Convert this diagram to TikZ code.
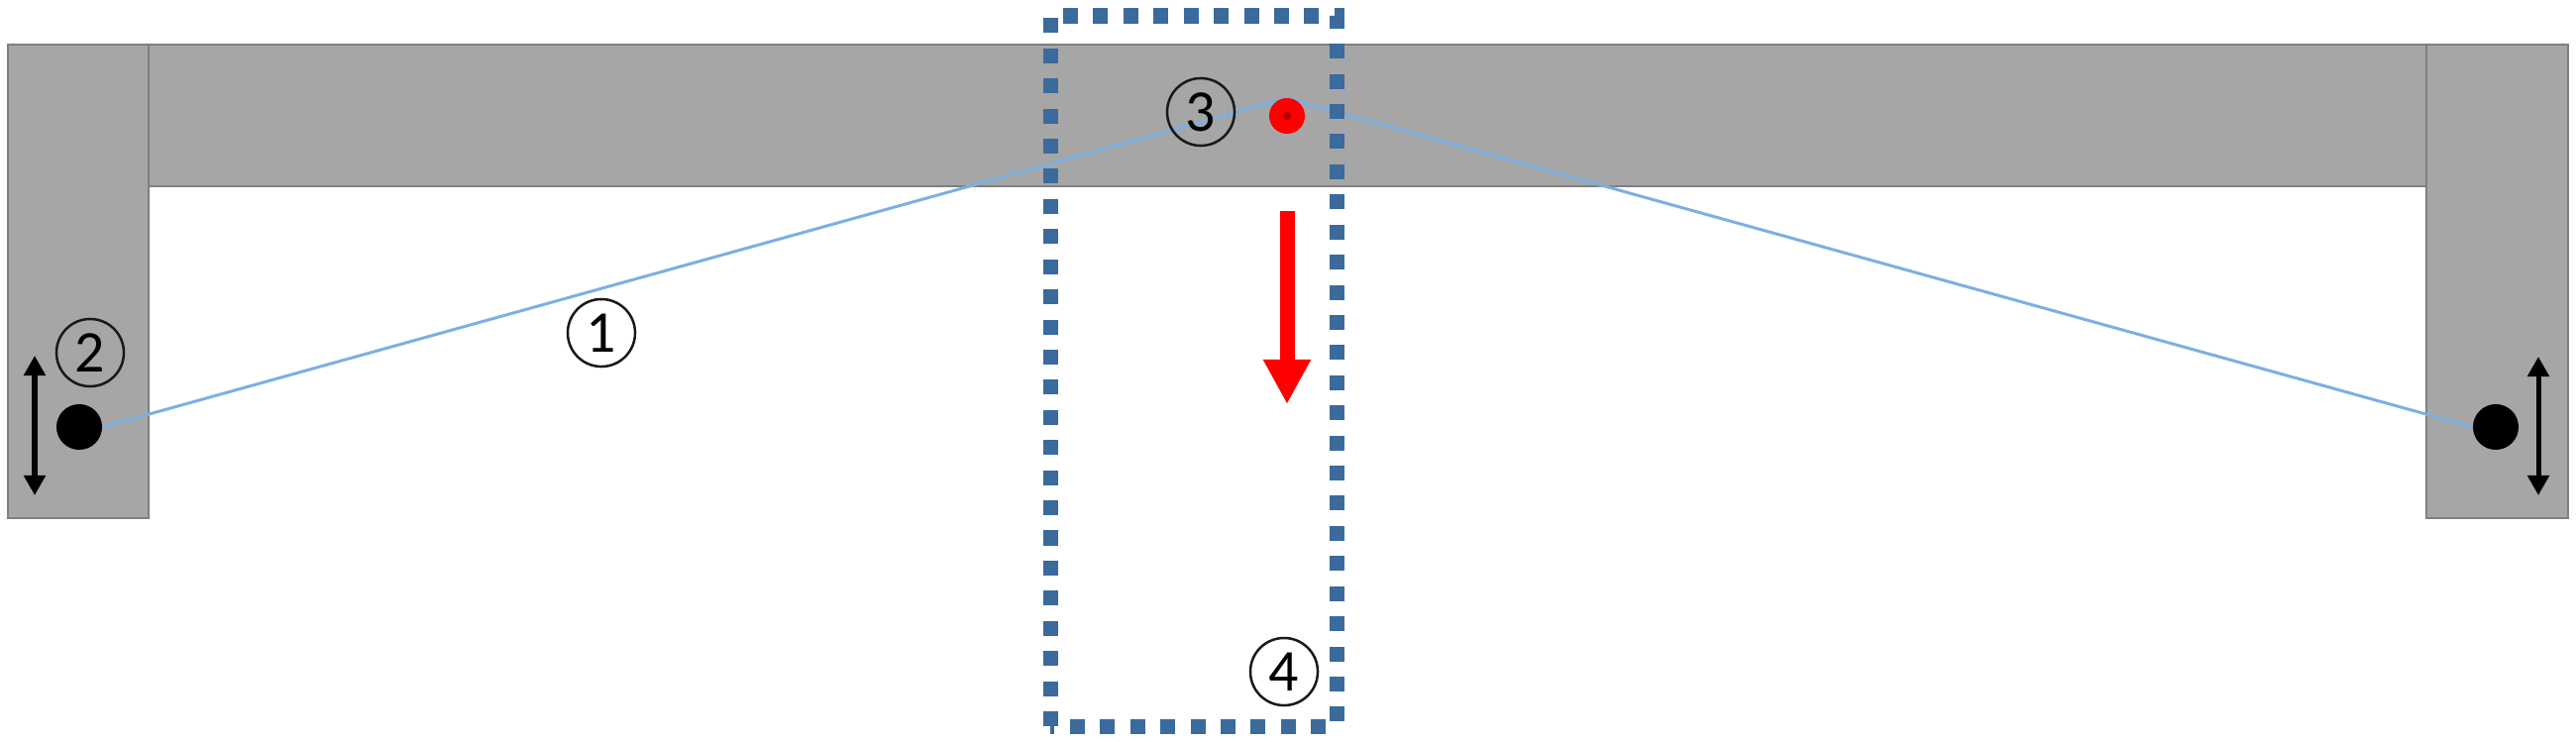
\documentclass[tikz,border=0pt]{standalone}
\usepackage{fontspec}
\setmainfont{Carlito}
\usetikzlibrary{arrows.meta}
\definecolor{beamgray}{HTML}{A6A6A6}
\definecolor{beamedge}{HTML}{7F7F7F}
\definecolor{wireblue}{HTML}{7DB0E0}
\definecolor{boxblue}{HTML}{3B6A9C}
\tikzset{
  beam/.style={fill=beamgray, draw=beamedge, line width=0.02cm},
  wire/.style={draw=wireblue, line width=0.03cm},
  pindot/.style={circle, fill=black, inner sep=0pt, minimum size=0.46cm},
  loaddot/.style={circle, fill=red, inner sep=0pt, minimum size=0.36cm},
  centermark/.style={circle, fill=red!70!black, inner sep=0pt, minimum size=0.08cm},
  marknum/.style={circle, draw=black!90, line width=0.025cm, inner sep=0pt, minimum size=0.68cm, font=\fontsize{17}{17}\selectfont},
  travel/.style={{Triangle[length=0.2cm, width=0.21cm]}-{Triangle[length=0.2cm, width=0.21cm]}, line width=0.05cm},
}
\begin{document}
\begin{tikzpicture}[x=0.01cm, y=-0.01cm]
      \useasboundingbox (0,0) rectangle (2600,748);
      %
      \draw[beam] (150,45) rectangle (2449,188);    % top bar
      \draw[beam] (8,45) rectangle (150,523);       % left post
      \draw[beam] (2449,45) rectangle (2592,523);   % right post
      %
      \node[pindot] (pinL) at (80,431) {};
      \node[pindot] (pinR) at (2519,431) {};
      \coordinate (apex) at (1299,99);
      \draw[wire] (pinL.east) -- (apex) -- (pinR.west);                % wire
      %
      \node[loaddot] (load) at (1299,117) {};
      \node[centermark] (loadc) at (load) {};
      %
      \draw[travel] (35,359) -- (35,500);                              % post motion
      \draw[travel] (2562,360) -- (2562,500);
      %
      \draw[red, line width=0.15cm, -{Triangle[length=0.45cm, width=0.45cm]}] (1299,213) -- (1299,408); % load
      %
      \draw[boxblue, line width=0.15cm, dash pattern=on 0.15cm off 0.154cm]
        (1060,733) -- (1060,16) -- (1349,16) -- (1349,733) -- cycle;   % dotted box
      %
      \node[marknum] (one) at (607,336) {1};
      \node[marknum] (two) at (91,356) {2};
      \node[marknum] (three) at (1212,113) {3};
      \node[marknum] (four) at (1296,678) {4};
      %
    \end{tikzpicture}
\end{document}
